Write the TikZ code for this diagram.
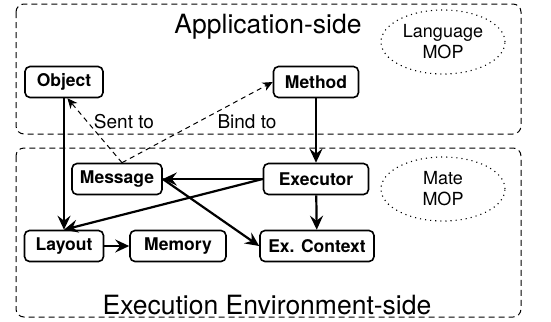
\documentclass[tikz,border=0pt]{standalone}
\usepackage{fontspec}
\setmainfont{TeX Gyre Heros}
\usetikzlibrary{arrows.meta,shapes.geometric}

\begin{document}
\begin{tikzpicture}[x=1bp,y=-1bp,inner sep=0pt]
    \tikzstyle{block}=[rectangle,rounded corners=5bp,draw,line width=1.6bp,minimum height=31bp,font=\fontsize{17.5bp}{20bp}\bfseries\selectfont]
    \tikzstyle{side}=[rounded corners=8bp,line width=1bp,dash pattern=on 6bp off 4bp]
    \tikzstyle{mop}=[ellipse,draw,line width=1.1bp,dash pattern=on 1.1bp off 4bp,minimum width=124bp,minimum height=64bp,align=center,font=\fontsize{18bp}{21bp}\selectfont]
    \tikzstyle{link}=[-{Stealth[length=14bp,width=13bp,inset=5bp]},line width=2.2bp]
    \tikzstyle{hint}=[-{Stealth[length=10bp,width=9bp,inset=3bp]},line width=1bp,dash pattern=on 5bp off 4bp]
    \useasboundingbox (0,0) rectangle (551,321);

    \draw[side] (16,4) rectangle (521,134);
    \draw[side] (16,148) rectangle (521,317);
    \node[font=\fontsize{26.5bp}{30bp}\selectfont] (app) at (268,27) {Application-side};
    \node[font=\fontsize{26.5bp}{30bp}\selectfont] (env) at (267,305) {Execution Environment-side};
    \node[mop] (lmop) at (443,42) {Language\\MOP};
    \node[mop] (mmop) at (443,189) {Mate\\MOP};

    \node[block,minimum width=78bp] (obj) at (64,82) {Object};
    \node[block,minimum width=85bp] (meth) at (316,82) {Method};
    \node[block,minimum width=90bp] (msg) at (117,179) {Message};
    \node[block,minimum width=105bp] (exe) at (316,179) {Executor};
    \node[block,minimum width=79bp] (lay) at (64,246) {Layout};
    \node[block,minimum width=96bp] (mem) at (178,246) {Memory};
    \node[block,minimum width=114bp] (ctx) at (317,246) {Ex. Context};

    \draw[hint] ([xshift=5bp]msg.north) -- (obj.-78);
    \draw[hint] ([xshift=5bp]msg.north) -- (meth.west);
    \node[font=\fontsize{19bp}{22bp}\selectfont] (sent) at (124,122) {Sent to};
    \node[font=\fontsize{19bp}{22bp}\selectfont] (bind) at (247,122) {Bind to};

    \draw[link] (obj) -- (lay);
    \draw[link] (meth) -- (exe);
    \draw[link] (exe) -- (msg);
    \draw[link] (exe.west) -- (lay.north);
    \draw[link] (msg.east) -- (ctx.west);
    \draw[link] (exe) -- (ctx);
    \draw[link] (lay) -- (mem);
\end{tikzpicture}
\end{document}
